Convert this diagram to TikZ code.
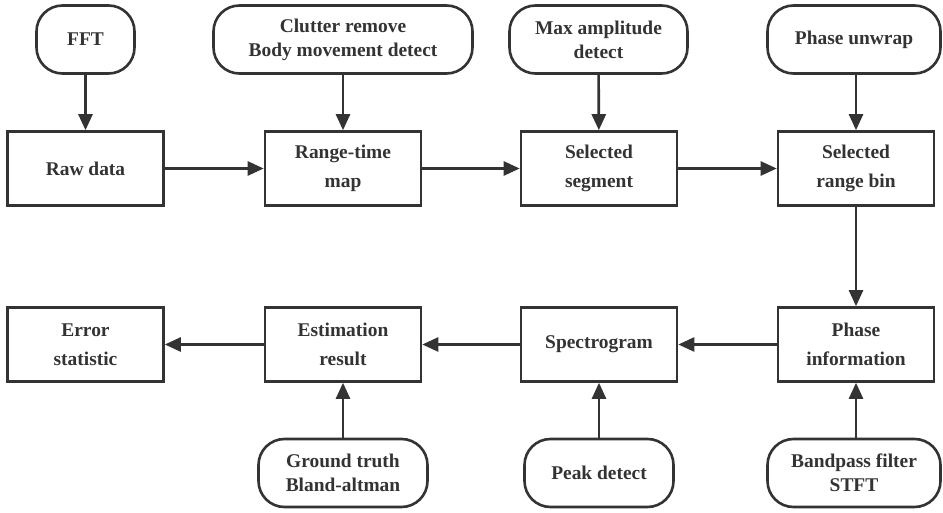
\documentclass[tikz,border=0pt]{standalone}
\usepackage{fontspec}
\setmainfont{Liberation Serif}
\usetikzlibrary{arrows.meta}
\definecolor{ink}{HTML}{333333}
\begin{document}
\begin{tikzpicture}[x=1bp,y=-1bp,
    every node/.style={text=ink, align=center},
    stage/.style={draw=ink, line width=2.6bp, rectangle, minimum width=156bp, minimum height=74bp, inner sep=0pt,
      font=\bfseries\fontsize{19.5}{29}\selectfont},
    term/.style={draw=ink, line width=2.6bp, rounded corners=26bp, minimum height=68bp, inner sep=0pt,
      font=\bfseries\fontsize{19.5}{24}\selectfont},
    flow/.style={draw=ink, line width=2.6bp, -{Triangle[length=16bp,width=14bp]}}]
  \useasboundingbox (0,0) rectangle (943,513);
  % processing chain, upper row
  \node[stage] (raw) at (85.5,168.5) {Raw data};
  \node[stage] (rtmap) at (343,168.5) {Range-time\\map};
  \node[stage] (seg) at (599,168.5) {Selected\\segment};
  \node[stage] (bin) at (856,168.5) {Selected\\range bin};
  % processing chain, lower row
  \node[stage] (err) at (85.5,344.5) {Error\\statistic};
  \node[stage] (est) at (343,344.5) {Estimation\\result};
  \node[stage] (spec) at (599,344.5) {Spectrogram};
  \node[stage] (phase) at (856,344.5) {Phase\\information};
  % operations feeding the upper row
  \node[term, minimum width=98bp] (fft) at (85.5,39.5) {FFT};
  \node[term, minimum width=259bp] (clutter) at (343,39.5) {Clutter remove\\Body movement detect};
  \node[term, minimum width=178bp] (maxamp) at (598.5,39.5) {Max amplitude\\detect};
  \node[term, minimum width=173bp] (unwrap) at (854,39.5) {Phase unwrap};
  % operations feeding the lower row
  \node[term, minimum width=169bp] (truth) at (343,473) {Ground truth\\Bland-altman};
  \node[term, minimum width=149bp] (peak) at (599,473) {Peak detect};
  \node[term, minimum width=173bp] (bandpass) at (854,473) {Bandpass filter\\STFT};
  % main flow
  \draw[flow] (raw) -- (rtmap);
  \draw[flow] (rtmap) -- (seg);
  \draw[flow] (seg) -- (bin);
  \draw[flow] (bin) -- (phase);
  \draw[flow] (phase) -- (spec);
  \draw[flow] (spec) -- (est);
  \draw[flow] (est) -- (err);
  % side inputs
  \draw[flow] (fft) -- (raw);
  \draw[flow] (clutter) -- (rtmap);
  \draw[flow] (maxamp) -- (seg);
  \draw[flow] (unwrap.south -| bin) -- (bin);
  \draw[flow] (truth) -- (est);
  \draw[flow] (peak) -- (spec);
  \draw[flow] (bandpass.north -| phase) -- (phase);
\end{tikzpicture}
\end{document}
